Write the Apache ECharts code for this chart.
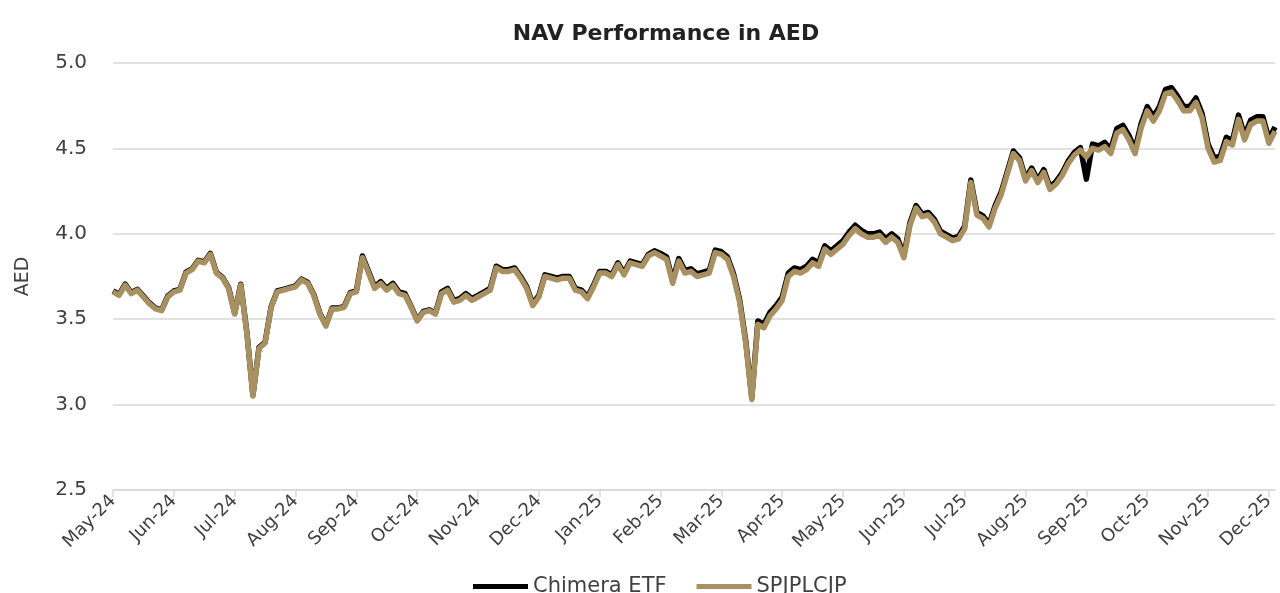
<!DOCTYPE html>
<html>
<head>
<meta charset="utf-8">
<title>NAV Performance in AED</title>
<script src="https://cdn.jsdelivr.net/npm/echarts@6/dist/echarts.min.js"></script>
<style>
  html, body { margin: 0; padding: 0; background: #fff; }
  #chart { width: 1280px; height: 593px; }
</style>
</head>
<body>
<div id="chart"></div>
<script>
// month labels shown every 10th sample on the x axis
var tickLabels = ['May-24', 'Jun-24', 'Jul-24', 'Aug-24', 'Sep-24', 'Oct-24', 'Nov-24', 'Dec-24',
  'Jan-25', 'Feb-25', 'Mar-25', 'Apr-25', 'May-25', 'Jun-25', 'Jul-25', 'Aug-25', 'Sep-25',
  'Oct-25', 'Nov-25', 'Dec-25'];

var chimera = [
  3.665, 3.645, 3.705, 3.655, 3.675, 3.635, 3.595, 3.565, 3.555, 3.635,
  3.665, 3.675, 3.775, 3.795, 3.845, 3.835, 3.885, 3.775, 3.745, 3.685,
  3.535, 3.705, 3.425, 3.055, 3.335, 3.365, 3.575, 3.665, 3.675, 3.685,
  3.695, 3.735, 3.715, 3.645, 3.535, 3.465, 3.565, 3.565, 3.575, 3.655,
  3.665, 3.87, 3.78, 3.69, 3.72, 3.68, 3.71, 3.66, 3.65, 3.575,
  3.495, 3.545, 3.555, 3.535, 3.66, 3.68, 3.61, 3.62, 3.65, 3.62,
  3.64, 3.66, 3.68, 3.81, 3.79, 3.79, 3.80, 3.75, 3.69, 3.59,
  3.64, 3.76, 3.75, 3.74, 3.75, 3.75, 3.68, 3.67, 3.63, 3.70,
  3.78, 3.78, 3.76, 3.83, 3.77, 3.84, 3.83, 3.82, 3.88, 3.90,
  3.885, 3.865, 3.725, 3.855, 3.785, 3.795, 3.765, 3.775, 3.785, 3.905,
  3.895, 3.865, 3.765, 3.615, 3.375, 3.04, 3.49, 3.47, 3.54, 3.58,
  3.63, 3.77, 3.80, 3.79, 3.81, 3.85, 3.83, 3.93, 3.90, 3.93,
  3.96, 4.01, 4.05, 4.02, 4.00, 4.00, 4.01, 3.97, 4.00, 3.97,
  3.875, 4.065, 4.165, 4.115, 4.125, 4.085, 4.015, 3.995, 3.975, 3.985,
  4.045, 4.315, 4.125, 4.105, 4.055, 4.165, 4.245, 4.365, 4.485, 4.445,
  4.325, 4.385, 4.315, 4.375, 4.275, 4.305, 4.355, 4.425, 4.475, 4.505,
  4.32, 4.525, 4.515, 4.535, 4.495, 4.615, 4.635, 4.575, 4.495, 4.645,
  4.745, 4.685, 4.745, 4.845, 4.855, 4.805, 4.745, 4.745, 4.795, 4.705,
  4.525, 4.445, 4.455, 4.565, 4.545, 4.695, 4.575, 4.665, 4.685, 4.685,
  4.555, 4.625
];

var spjplcjp = [
  3.66, 3.64, 3.70, 3.65, 3.67, 3.63, 3.59, 3.56, 3.55, 3.63,
  3.66, 3.67, 3.77, 3.79, 3.84, 3.83, 3.88, 3.77, 3.74, 3.68,
  3.53, 3.70, 3.42, 3.05, 3.33, 3.36, 3.57, 3.66, 3.67, 3.68,
  3.69, 3.73, 3.71, 3.64, 3.53, 3.46, 3.56, 3.56, 3.57, 3.65,
  3.66, 3.86, 3.77, 3.68, 3.71, 3.67, 3.70, 3.65, 3.64, 3.57,
  3.49, 3.54, 3.55, 3.53, 3.65, 3.67, 3.60, 3.61, 3.64, 3.61,
  3.63, 3.65, 3.67, 3.80, 3.78, 3.78, 3.79, 3.74, 3.68, 3.58,
  3.63, 3.75, 3.74, 3.73, 3.74, 3.74, 3.67, 3.66, 3.62, 3.69,
  3.77, 3.77, 3.75, 3.82, 3.76, 3.83, 3.82, 3.81, 3.87, 3.89,
  3.87, 3.85, 3.71, 3.84, 3.77, 3.78, 3.75, 3.76, 3.77, 3.89,
  3.88, 3.85, 3.75, 3.60, 3.36, 3.03, 3.47, 3.45, 3.52, 3.56,
  3.61, 3.75, 3.78, 3.77, 3.79, 3.83, 3.81, 3.91, 3.88, 3.91,
  3.94, 3.99, 4.03, 4.00, 3.98, 3.98, 3.99, 3.95, 3.98, 3.95,
  3.86, 4.05, 4.15, 4.10, 4.11, 4.07, 4.00, 3.98, 3.96, 3.97,
  4.03, 4.30, 4.11, 4.09, 4.04, 4.15, 4.23, 4.35, 4.47, 4.43,
  4.31, 4.37, 4.30, 4.36, 4.26, 4.29, 4.34, 4.41, 4.46, 4.49,
  4.45, 4.50, 4.49, 4.51, 4.47, 4.59, 4.61, 4.55, 4.47, 4.62,
  4.72, 4.66, 4.72, 4.82, 4.83, 4.78, 4.72, 4.72, 4.77, 4.68,
  4.50, 4.42, 4.43, 4.54, 4.52, 4.67, 4.55, 4.64, 4.66, 4.66,
  4.53, 4.60
];

// sample dates (every 3 days from the first NAV date)
var startDate = Date.UTC(2024, 4, 31);
var categories = spjplcjp.map(function (v, i) {
  return new Date(startDate + i * 3 * 86400000).toISOString().slice(0, 10);
});

var chart = echarts.init(document.getElementById('chart'));
var font = 'DejaVu Sans';

var option = {
  animation: false,
  backgroundColor: '#fff',
  title: {
    text: 'NAV Performance in AED',
    left: 661,
    top: 18,
    textAlign: 'center',
    textStyle: { fontFamily: font, fontSize: 22, fontWeight: 'bold', color: '#222' }
  },
  legend: {
    data: ['Chimera ETF', 'SPJPLCJP'],
    left: 468,
    top: 571,
    icon: 'rect',
    itemWidth: 55,
    itemHeight: 5,
    itemGap: 30,
    textStyle: { fontFamily: font, fontSize: 21, color: '#404040' }
  },
  grid: { left: 113, right: 5, top: 63, bottom: 103 },
  xAxis: {
    type: 'category',
    data: categories,
    boundaryGap: false,
    axisLine: { lineStyle: { color: '#d9d9d9', width: 1.5 } },
    axisTick: { interval: 9, length: 7, lineStyle: { color: '#d9d9d9', width: 1.5 } },
    axisLabel: {
      interval: 9,
      rotate: 45,
      margin: 8,
      fontFamily: font,
      fontSize: 18,
      color: '#404040',
      formatter: function (value, index) { return tickLabels[index / 10] || ''; }
    },
    splitLine: { show: false }
  },
  yAxis: {
    type: 'value',
    min: 2.5,
    max: 5.0,
    interval: 0.5,
    name: 'AED',
    nameLocation: 'middle',
    nameRotate: 90,
    nameGap: 80,
    nameTextStyle: { fontFamily: font, fontSize: 19, color: '#404040' },
    axisLine: { show: false },
    axisTick: { show: false },
    axisLabel: {
      margin: 26,
      fontFamily: font,
      fontSize: 20,
      color: '#404040',
      formatter: function (v) { return v.toFixed(1); }
    },
    splitLine: { lineStyle: { color: '#d9d9d9', width: 1.5 } }
  },
  series: [
    {
      name: 'Chimera ETF',
      type: 'line',
      data: chimera,
      showSymbol: false,
      color: '#000000',
      lineStyle: { width: 5.5, join: 'round' }
    },
    {
      name: 'SPJPLCJP',
      type: 'line',
      data: spjplcjp,
      showSymbol: false,
      color: '#A89060',
      lineStyle: { width: 5.5, join: 'round' }
    }
  ]
};

chart.setOption(option);
window.onresize = chart.resize;
</script>
</body>
</html>
